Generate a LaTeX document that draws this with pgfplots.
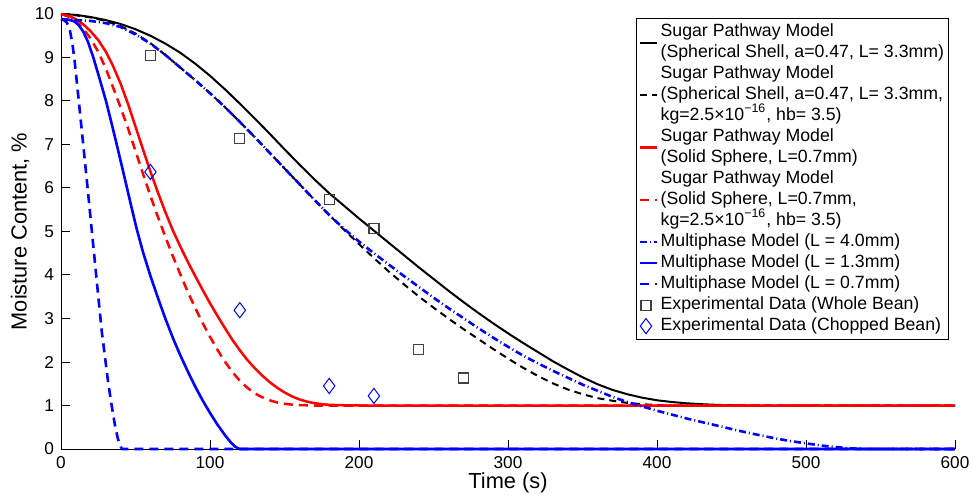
\documentclass[border=0pt]{standalone}
\usepackage{pgfplots}
\pgfplotsset{compat=1.18}
\usepackage{fontspec}
\setmainfont{Liberation Sans}
\newcommand{\supx}[1]{\smash{\textsuperscript{#1}}}
\pgfplotsset{marklegend/.style={legend image code/.code={\draw[mark repeat=2,mark phase=2,##1] plot coordinates {(0pt,0pt) (3pt,0pt) (6pt,0pt)};}}}
\begin{document}
\begin{tikzpicture}
\begin{axis}[
  scale only axis,
  width=447pt, height=217.5pt,
  xmin=0, xmax=600, ymin=0, ymax=10,
  xtick={0,100,...,600}, ytick={0,1,...,10},
  axis x line*=bottom, axis y line*=left,
  axis line style={-, line width=0.5pt},
  tick align=inside,
  major tick length=4.5pt,
  tick style={black, line width=0.5pt},
  ticklabel style={font=\fontsize{8.6}{10}\selectfont},
  /pgf/number format/assume math mode=true,
  xlabel={Time (s)}, ylabel={Moisture Content, \%},
  every axis x label/.style={at={(axis description cs:0.5,0)}, anchor=center, yshift=-17pt, font=\fontsize{10.9}{13}\selectfont},
  every axis y label/.style={at={(axis description cs:0,0.5)}, anchor=center, xshift=-20.5pt, rotate=90, font=\fontsize{10.9}{13}\selectfont},
  clip=false,
  legend style={at={(0.9933,0.9908)}, anchor=north east, draw=black, line width=0.6pt,
    font=\fontsize{8.85}{10.5}\selectfont, inner xsep=1pt, inner ysep=1.5pt, row sep=0pt,
    cells={anchor=west, align=left},
    nodes={inner ysep=0pt, inner xsep=1.2pt, text depth=}},
  legend image code/.code={\draw[mark repeat=2,mark phase=2,#1] plot coordinates {(0pt,0pt) (4.25pt,0pt) (8.5pt,0pt)};},
]
% Sugar pathway, spherical shell
\addplot[black, line width=1pt] coordinates {
(0,10.00) (10,9.98) (20,9.93) (30,9.86) (40,9.77) (50,9.65) (60,9.50) (70,9.32) (80,9.11) (90,8.86)
(100,8.58) (110,8.27) (120,7.94) (130,7.60) (140,7.25) (150,6.89) (160,6.54) (170,6.20) (180,5.88)
(190,5.59) (200,5.30) (210,5.02) (220,4.74) (230,4.46) (240,4.18) (250,3.91) (260,3.64) (270,3.38)
(280,3.13) (290,2.89) (300,2.66) (310,2.44) (320,2.23) (330,2.02) (340,1.83) (350,1.65) (360,1.49)
(370,1.36) (380,1.26) (390,1.18) (400,1.12) (410,1.08) (420,1.05) (430,1.03) (440,1.015) (450,1.005)
(460,1.0) (500,1.0) (550,1.0) (600,1.0)};
\addlegendentry{\strut Sugar Pathway Model\\\strut (Spherical Shell, a=0.47, L= 3.3mm)}
% Sugar pathway, spherical shell with kg
\addplot[black, line width=1pt, dash pattern=on 3.5pt off 2.5pt] coordinates {
(0,10.00) (10,9.97) (20,9.92) (30,9.84) (40,9.72) (50,9.55) (60,9.33) (70,9.06) (80,8.77) (90,8.48)
(100,8.18) (110,7.86) (120,7.52) (130,7.17) (140,6.81) (150,6.45) (160,6.09) (170,5.73) (180,5.38)
(190,5.04) (200,4.71) (210,4.39) (220,4.08) (230,3.79) (240,3.51) (250,3.25) (260,3.00) (270,2.76)
(280,2.53) (290,2.30) (300,2.08) (310,1.87) (320,1.68) (330,1.51) (340,1.37) (350,1.26) (360,1.17)
(370,1.11) (380,1.06) (390,1.03) (400,1.01) (410,1.00) (500,1.00) (600,1.00)};
\addlegendentry{\strut Sugar Pathway Model\\\strut (Spherical Shell, a=0.47, L= 3.3mm,\\\strut kg=2.5×10\supx{−16}, hb= 3.5)}
% Sugar pathway, solid sphere
\addplot[red, line width=1.25pt] coordinates {
(0,10.00) (5,9.96) (10,9.88) (15,9.76) (20,9.60) (25,9.40) (30,9.14) (35,8.80) (40,8.40) (45,7.93)
(50,7.41) (55,6.89) (60,6.38) (65,5.90) (70,5.45) (75,5.03) (80,4.66) (85,4.31) (90,3.98) (95,3.66)
(100,3.35) (105,3.06) (110,2.78) (115,2.51) (120,2.27) (125,2.05) (130,1.86) (135,1.69) (140,1.54)
(145,1.41) (150,1.30) (155,1.21) (160,1.14) (165,1.09) (170,1.055) (175,1.03) (180,1.015) (190,1.005)
(200,1.0) (300,1.0) (400,1.0) (500,1.0) (600,1.0)};
\addlegendentry{\strut Sugar Pathway Model\\\strut (Solid Sphere, L=0.7mm)}
% Sugar pathway, solid sphere with kg
\addplot[red, line width=1.25pt, dash pattern=on 4.5pt off 3pt] coordinates {
(0,10.00) (5,9.94) (10,9.82) (15,9.66) (20,9.43) (25,9.13) (30,8.75) (35,8.31) (40,7.85) (45,7.37)
(50,6.85) (55,6.33) (60,5.82) (65,5.34) (70,4.88) (75,4.44) (80,4.02) (85,3.62) (90,3.25) (95,2.90)
(100,2.58) (105,2.28) (110,2.01) (115,1.77) (120,1.57) (125,1.41) (130,1.28) (135,1.19) (140,1.12)
(145,1.07) (150,1.04) (155,1.02) (160,1.01) (170,1.0) (300,1.0) (400,1.0) (500,1.0) (600,1.0)};
\addlegendentry{\strut Sugar Pathway Model\\\strut (Solid Sphere, L=0.7mm,\\\strut kg=2.5×10\supx{−16}, hb= 3.5)}
% Multiphase L=4.0
\addplot[blue, line width=1.3pt, dash pattern=on 3.5pt off 1.5pt on 0.5pt off 1.5pt] coordinates {
(0,9.88) (10,9.86) (20,9.84) (30,9.79) (40,9.70) (50,9.53) (60,9.32) (70,9.06) (80,8.77) (90,8.48)
(100,8.18) (110,7.86) (120,7.52) (130,7.17) (140,6.81) (150,6.45) (160,6.09) (170,5.73) (180,5.38)
(190,5.06) (200,4.77) (210,4.50) (220,4.24) (230,3.98) (240,3.73) (250,3.48) (260,3.24) (270,3.01)
(280,2.78) (290,2.56) (300,2.35) (310,2.15) (320,1.97) (330,1.80) (340,1.64) (350,1.48) (360,1.34)
(370,1.20) (380,1.08) (390,0.98) (400,0.88) (410,0.79) (420,0.70) (430,0.62) (440,0.54) (450,0.46)
(460,0.38) (470,0.31) (480,0.24) (490,0.18) (500,0.13) (510,0.08) (520,0.045) (530,0.015) (540,0.0)
(570,0.0) (600,0.0)};
\addlegendentry{\strut Multiphase Model (L = 4.0mm)}
% Multiphase L=1.3
\addplot[blue, line width=1.3pt] coordinates {
(0,9.88) (5,9.87) (9,9.83) (12,9.74) (15,9.59) (18,9.37) (21.7,9.0) (26,8.5) (30.2,8.0) (34,7.48)
(37.4,7.0) (41,6.48) (44.3,6.0) (47.5,5.53) (50.8,5.06) (55,4.53) (60,3.98) (65,3.48) (70,3.00)
(75,2.56) (80,2.16) (85,1.79) (90,1.44) (95,1.12) (100,0.83) (105,0.56) (110,0.32) (114,0.15)
(117,0.05) (120,0.0) (200,0.0) (300,0.0) (400,0.0) (500,0.0) (600,0.0)};
\addlegendentry{\strut Multiphase Model (L = 1.3mm)}
% Multiphase L=0.7
\addplot[blue, line width=1.3pt, dash pattern=on 4.5pt off 3pt] coordinates {
(0,9.87) (2,9.86) (4,9.80) (6,9.62) (7.5,9.35) (9,8.97) (12,7.98) (15,6.97) (18.2,5.88) (22.8,4.28)
(27.3,2.72) (31.7,1.52) (34,1.0) (36.2,0.55) (38,0.26) (39.5,0.09) (41,0.0) (100,0.0) (200,0.0)
(300,0.0) (400,0.0) (500,0.0) (600,0.0)};
\addlegendentry{\strut Multiphase Model (L = 0.7mm)}
% Experimental whole bean
\addplot[only marks, mark=square, mark size=2.5pt, black!75, mark options={line width=0.6pt}, marklegend] coordinates {
(60,9.05) (120,7.14) (180,5.74) (210,5.07) (240,2.29) (270,1.63)};
\addlegendentry{\strut Experimental Data (Whole Bean)}
% Experimental chopped bean
\addplot[only marks, mark=diamond, mark size=3.8pt, blue, mark options={line width=0.5pt}, marklegend] coordinates {
(60,6.37) (120,3.19) (180,1.45) (210,1.22)};
\addlegendentry{\strut Experimental Data (Chopped Bean)}
\end{axis}
\pgfresetboundingbox
\path[use as bounding box] (-30.5pt,-24pt) rectangle (455.5pt,224.5pt);
\end{tikzpicture}
\end{document}
